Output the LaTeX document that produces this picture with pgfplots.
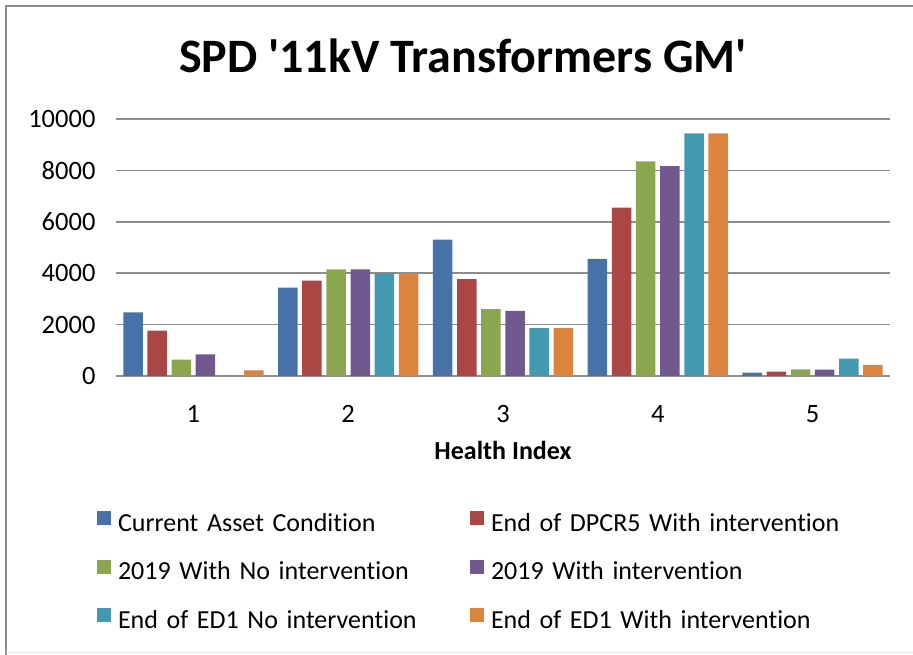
\documentclass[border=0pt]{standalone}
\usepackage{fontspec}
\setmainfont{Carlito}[Ligatures={NoCommon}]
\usepackage{pgfplots}
\pgfplotsset{compat=1.18}
\definecolor{cBlue}{RGB}{70,114,168}
\definecolor{cRed}{RGB}{170,70,68}
\definecolor{cGreen}{RGB}{138,166,78}
\definecolor{cPurple}{RGB}{113,89,143}
\definecolor{cTeal}{RGB}{66,153,176}
\definecolor{cOrange}{RGB}{220,132,62}
\definecolor{gridgray}{RGB}{140,140,140}
\begin{document}
\begin{tikzpicture}[x=1pt,y=1pt]
\useasboundingbox (0,0) rectangle (913,655);
\draw[gridgray,line width=1.5pt] (6,-5) -- (6,649) -- (920,649);
\draw[black!10,line width=1pt] (6,2) -- (920,2);
\node[font={\fontsize{48}{58}\selectfont\bfseries}] at (463,599) {SPD \textquotesingle 11kV Transformers GM\textquotesingle};
\begin{axis}[
  at={(116pt,279pt)}, anchor=south west,
  scale only axis, width=774pt, height=257pt,
  xmin=0.5, xmax=5.5, ymin=0, ymax=10000,
  ybar, bar width=0.126,
  xtick={1,2,3,4,5},
  ytick={0,2000,4000,6000,8000,10000},
  scaled y ticks=false,
  /pgf/number format/assume math mode=true,
  /pgf/number format/1000 sep={},
  axis line style={draw=none},
  tick style={draw=none},
  ymajorgrids,
  grid style={gridgray,line width=1.5pt},
  tick label style={font={\fontsize{26.5}{31}\selectfont}},
  xticklabel style={anchor=base, yshift=-42pt},
  yticklabel style={anchor=east, xshift=-17pt},
  xlabel={Health Index},
  xlabel style={font={\fontsize{26}{31}\selectfont\bfseries}, at={(axis description cs:0.5,0)}, anchor=base, yshift=-84pt},
  legend columns=2,
  legend cell align=left,
  legend image code/.code={\fill[#1] (0pt,0pt) rectangle (14pt,14pt);},
  legend style={
    draw=none, fill=none, inner sep=0pt, outer sep=0pt,
    at={(axis description cs:-0.0245,-0.527)}, anchor=north west,
    font={\fontsize{26}{31}\selectfont},
    nodes={inner sep=0pt, text height=18pt, text depth=6pt},
    row sep=22.5pt,
    /tikz/every odd column/.append style={column sep=7pt},
    /tikz/every even column/.append style={text width=352pt},
  },
]
\addplot[fill=cBlue, draw=none, bar shift=-0.39] coordinates {(1,2480) (2,3440) (3,5310) (4,4560) (5,130)};
\addlegendentry{Current Asset Condition}
\addplot[fill=cRed, draw=none, bar shift=-0.234] coordinates {(1,1770) (2,3715) (3,3770) (4,6550) (5,170)};
\addlegendentry{End of DPCR5 With intervention}
\addplot[fill=cGreen, draw=none, bar shift=-0.078] coordinates {(1,635) (2,4145) (3,2600) (4,8350) (5,260)};
\addlegendentry{2019 With No intervention}
\addplot[fill=cPurple, draw=none, bar shift=0.078] coordinates {(1,845) (2,4145) (3,2535) (4,8170) (5,245)};
\addlegendentry{2019 With intervention}
\addplot[fill=cTeal, draw=none, bar shift=0.234] coordinates {(1,0) (2,4000) (3,1860) (4,9440) (5,675)};
\addlegendentry{End of ED1 No intervention}
\addplot[fill=cOrange, draw=none, bar shift=0.39] coordinates {(1,220) (2,4000) (3,1860) (4,9440) (5,430)};
\addlegendentry{End of ED1 With intervention}
\end{axis}
\end{tikzpicture}
\end{document}
